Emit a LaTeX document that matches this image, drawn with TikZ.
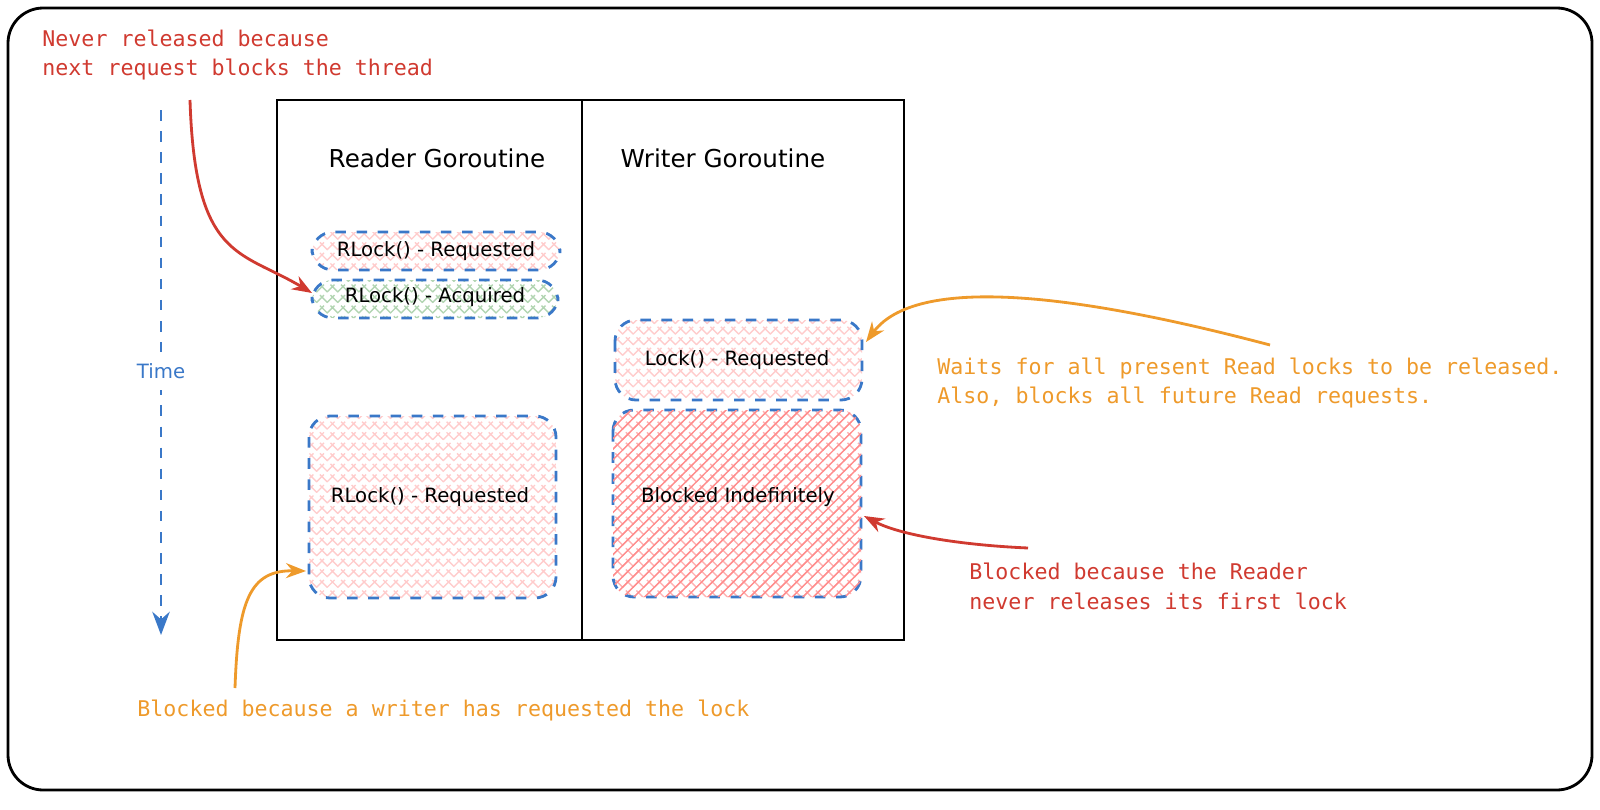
\documentclass[tikz,border=0pt]{standalone}
\usepackage{fontspec}
\setmainfont{DejaVu Sans}
\setmonofont{DejaVu Sans Mono}
\usetikzlibrary{arrows.meta,patterns}
\definecolor{anred}{HTML}{D03A30}
\definecolor{anorange}{HTML}{EE9A2B}
\definecolor{boxblue}{HTML}{3A78C8}
\tikzset{
	stage/.style={draw=boxblue, dashed, rounded corners=6pt, thick},
	note/.style={font=\ttfamily\fontsize{6.15}{8.5}\selectfont, align=left, anchor=west},
	boxtext/.style={font=\fontsize{5.6}{7}\selectfont},
	curvy/.style={thick, -{Stealth[length=2mm]}},
}
\begin{document}
\begin{tikzpicture}[x=0.01cm,y=-0.01cm,>=Stealth]
	
	% --- Frame
	\draw[thick, rounded corners=10pt] (8,8) rectangle (1592,790);
	
	% --- Columns
	\draw[thick] (277,100) rectangle (904,640);
	\draw[thick] (582,100) -- (582,640);
	\node[font=\fontsize{7}{9}\selectfont] (reader) at (437,158) {Reader Goroutine};
	\node[font=\fontsize{7}{9}\selectfont] (writer) at (723,158) {Writer Goroutine};
	
	% --- Time axis
	\coordinate (t0) at (161,110);
	\coordinate (t1) at (161,635);
	\draw[boxblue, dashed, thick, ->] (t0) -- (t1);
	\node[fill=white, text=boxblue, boxtext] (time) at (161,371) {Time};
	
	% --- Reader stages
	\draw[stage, pattern=crosshatch, pattern color=red!20] (312,232) rectangle (560,270);
	\node[boxtext] (rreq) at (436,251) {RLock() - Requested};
	\draw[stage, pattern=crosshatch, pattern color=green!45!black!30] (312,280) rectangle (558,318);
	\node[boxtext] (racq) at (435,297) {RLock() - Acquired};
	\draw[stage, pattern=crosshatch, pattern color=red!20] (309,416) rectangle (556,598);
	\node[boxtext] (rreq2) at (430,497) {RLock() - Requested};
	
	% --- Writer stages
	\draw[stage, pattern=crosshatch, pattern color=red!20] (615,320) rectangle (862,400);
	\node[boxtext] (wreq) at (737,360) {Lock() - Requested};
	\draw[stage, pattern=crosshatch, pattern color=red!30] (613,410) rectangle (861,597);
	\fill[pattern=north east lines, pattern color=red!45] (613,410) [rounded corners=6pt] rectangle (861,597);
	\node[boxtext] (wblock) at (738,497) {Blocked Indefinitely};
	
	% --- Annotations
	\node[note, text=anred] (never) at (30,55) {Never released because\\next request blocks the thread};
	\coordinate (a1) at (190,100);
	\coordinate (a1e) at (312,293);
	\draw[curvy, anred] (a1) .. controls (195,260) and (240,250) .. (a1e);
	
	\node[note, text=anorange] (waits) at (925,383) {Waits for all present Read locks to be released.\\Also, blocks all future Read requests.};
	\coordinate (a2) at (1270,345);
	\coordinate (a2e) at (866,342);
	\draw[curvy, anorange] (a2) .. controls (1100,300) and (920,270) .. (a2e);
	
	\node[note, text=anred] (blocked) at (957,586) {Blocked because the Reader\\never releases its first lock};
	\coordinate (a3) at (1028,548);
	\coordinate (a3e) at (864,516);
	\draw[curvy, anred] (a3) .. controls (960,545) and (900,535) .. (a3e);
	
	\node[note, text=anorange] (writerreq) at (125,710) {Blocked because a writer has requested the lock};
	\coordinate (a4) at (235,688);
	\coordinate (a4e) at (306,571);
	\draw[curvy, anorange] (a4) .. controls (238,600) and (250,570) .. (a4e);
	
	\pgfresetboundingbox
	\useasboundingbox (0,0) rectangle (1600,809);
\end{tikzpicture}
\end{document}
